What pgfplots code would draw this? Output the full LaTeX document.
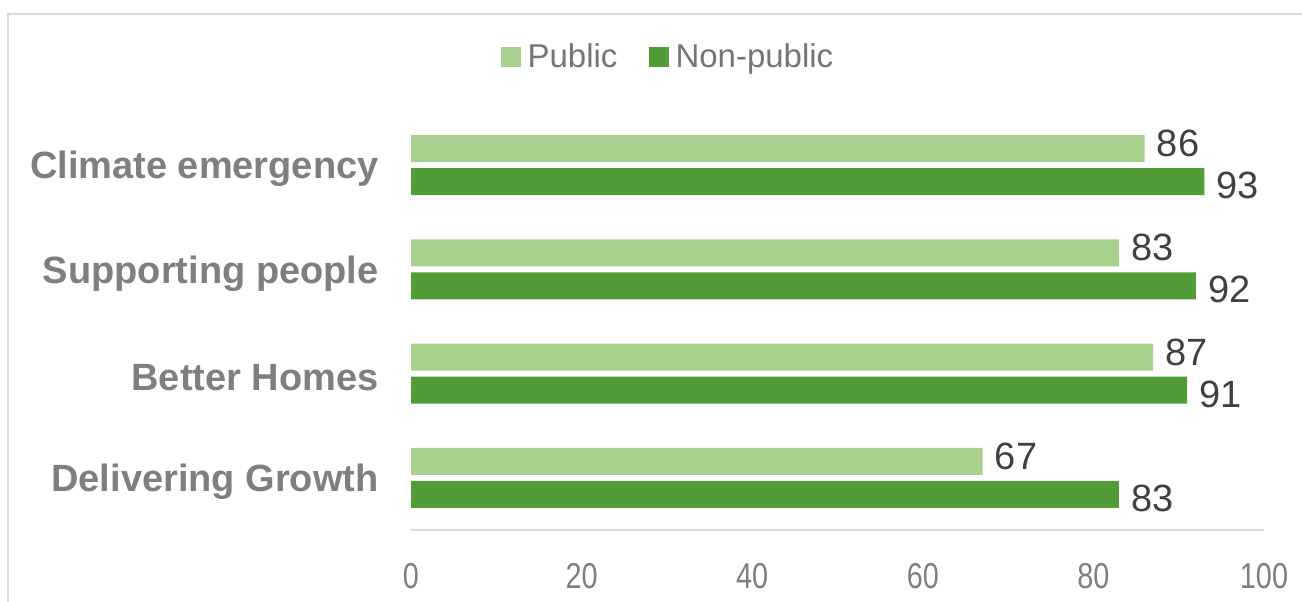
\documentclass[border=0pt]{standalone}
\usepackage{pgfplots}
\pgfplotsset{compat=1.18}
\usepackage{fontspec}
\setmainfont{Liberation Sans}
\usepackage{graphicx}
\definecolor{lightg}{HTML}{A9D18E}
\definecolor{darkg}{HTML}{519C36}
\definecolor{labgray}{HTML}{7F7F7F}
\definecolor{leggray}{HTML}{757575}
\definecolor{valgray}{HTML}{404040}
\definecolor{framegray}{HTML}{D9D9D9}
\begin{document}
\begin{tikzpicture}
\useasboundingbox (0,0) rectangle (651pt,300.5pt);
\draw[framegray, line width=1pt] (4pt,-5pt) -- (4pt,293.5pt) -- (660pt,293.5pt);
\begin{axis}[
  at={(205.5pt,35.5pt)}, anchor=south west,
  scale only axis, width=426.5pt, height=208.5pt,
  xmin=0, xmax=100, ymin=-0.5, ymax=3.5,
  xbar, bar width=13.5pt,
  axis x line*=bottom, axis y line*=left,
  x axis line style={framegray, line width=1pt, -},
  y axis line style={draw=none},
  major tick length=0pt,
  xtick={0,20,40,60,80,100},
  ytick={0,1,2,3},
  yticklabels={Delivering Growth, Better Homes, Supporting people, Climate emergency},
  yticklabel style={font=\fontsize{19pt}{19pt}\selectfont\bfseries, text=labgray, inner sep=0pt, xshift=-16pt, yshift=-2pt},
  /pgf/number format/assume math mode=true,
  xticklabel={\scalebox{0.8}[1]{\pgfmathprintnumber{\tick}}},
  xticklabel style={font=\fontsize{18pt}{18pt}\selectfont, text=labgray, inner sep=0pt, anchor=north, yshift=-16.5pt},
  nodes near coords,
  nodes near coords style={font=\fontsize{19pt}{19pt}\selectfont, text=valgray, anchor=west, inner sep=0pt, xshift=6pt},
  legend style={at={(rel axis cs:0.1046,1.135)}, anchor=west, draw=none, fill=none, inner sep=0pt,
    font=\fontsize{16.5pt}{16.5pt}\selectfont, text=leggray, legend columns=2,
    nodes={inner sep=0pt},
    /tikz/every odd column/.append style={column sep=3.5pt},
    /tikz/every even column/.append style={column sep=15.5pt}},
  legend image code/.code={\fill[#1] (0pt,-5pt) rectangle (10pt,5pt);},
]
\addplot[fill=lightg, draw=none, bar shift=8.25pt, nodes near coords style={yshift=2.5pt}] coordinates {(67,0) (87,1) (83,2) (86,3)};
\addplot[fill=darkg, draw=none, bar shift=-8.25pt, nodes near coords style={yshift=-2pt}] coordinates {(83,0) (91,1) (92,2) (93,3)};
\legend{Public, Non-public}
\end{axis}
\end{tikzpicture}
\end{document}
